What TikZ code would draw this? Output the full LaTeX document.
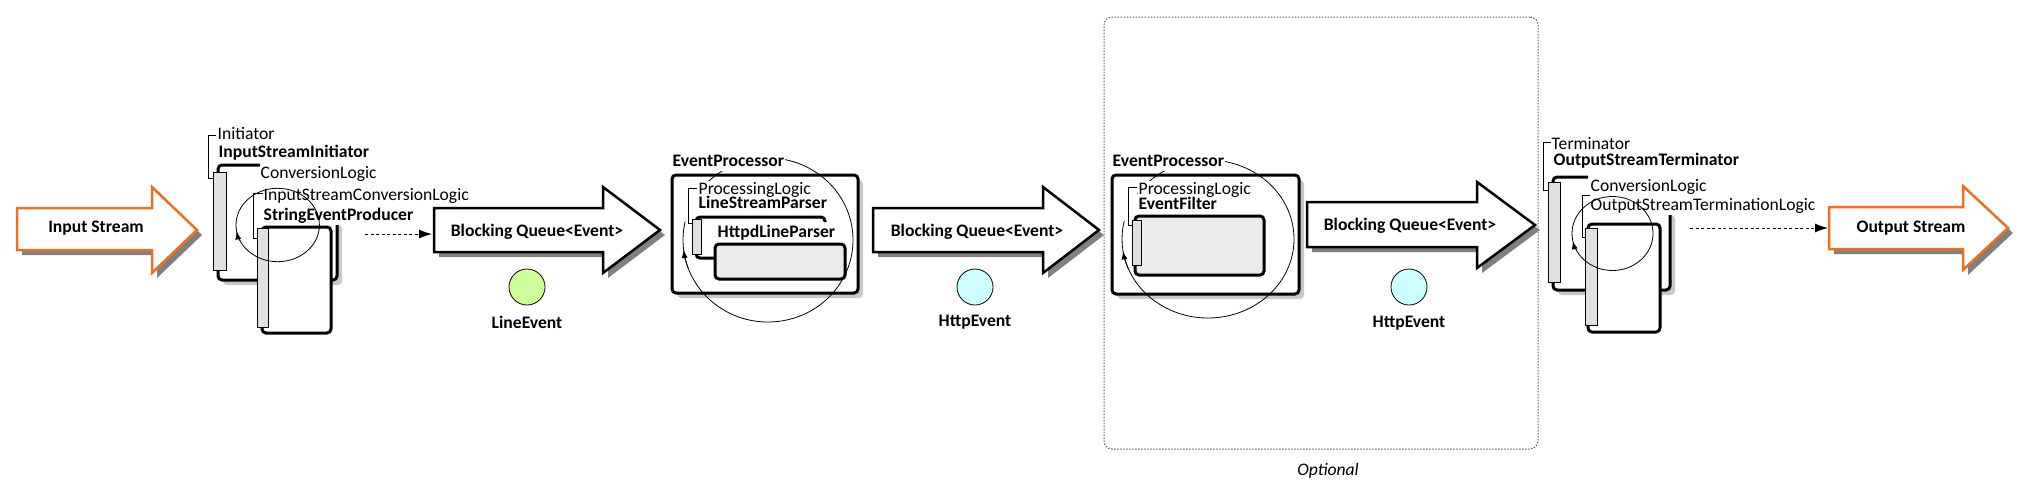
\documentclass[tikz,border=0pt]{standalone}
\usepackage{fontspec}
\setmainfont{Carlito}
\usetikzlibrary{arrows.meta,calc}
\pgfdeclarelayer{masks}
\pgfdeclarelayer{front}
\pgfsetlayers{main,masks,front}
\definecolor{orng}{RGB}{240,110,30}
\definecolor{ashad}{RGB}{128,128,128}
\definecolor{cshad}{RGB}{200,200,200}
\definecolor{portfill}{RGB}{224,224,224}
\definecolor{innerfill}{RGB}{235,235,235}
\definecolor{lgreen}{RGB}{204,255,153}
\definecolor{lcyan}{RGB}{204,255,255}
\definecolor{optgray}{RGB}{90,90,90}
\newcommand\arrowpath[8]{(#1,#4) -- (#2,#4) -- (#2,#6) -- (#3,#8) -- (#2,#7) -- (#2,#5) -- (#1,#5) -- cycle}
\newcommand\lab[4]{%
  \begin{pgfonlayer}{masks}\node[lblbox,#3,fill=white,text=white] at (#2) {#4};\end{pgfonlayer}%
  \begin{pgfonlayer}{front}\node[lblbox,#3] (#1) at (#2) {#4};\end{pgfonlayer}}
\tikzset{
  every node/.style={font=\fontsize{17.6}{20}\selectfont},
  reg/.style={},
  bold/.style={font=\fontsize{17.6}{20}\selectfont\bfseries},
  ital/.style={font=\fontsize{17.6}{20}\selectfont\itshape},
  lblbox/.style={anchor=west, inner xsep=0.5pt, inner ysep=0.5pt, text height=12.5pt, text depth=4pt},
  qarrow/.style={draw=black, line width=2.5pt, fill=white, line join=miter},
  oarrow/.style={draw=orng, line width=2.5pt, fill=white, line join=miter},
  ashadow/.style={fill=ashad},
  comp/.style={draw=black, line width=3pt, rounded corners=4pt},
  cshadow/.style={fill=cshad, rounded corners=4pt},
  port/.style={draw=black, line width=0.8pt, fill=portfill},
  brk/.style={draw=black, line width=0.8pt},
  loopline/.style={draw=black, line width=0.8pt},
  looptip/.style={draw=black, line width=0.8pt, -{Latex[length=8pt,width=6pt]}},
  dasharrow/.style={line width=1pt, dash pattern=on 3pt off 2.5pt, -{Latex[length=13pt,width=9pt]}},
  evcircle/.style={circle, draw=black, line width=0.8pt, minimum size=36pt, inner sep=0pt},
  optbox/.style={draw=optgray, line width=1pt, dash pattern=on 1.5pt off 1.5pt, rounded corners=8pt, minimum width=434pt, minimum height=432pt, inner sep=0pt}
}
\begin{document}
\begin{tikzpicture}[x=1pt,y=-1pt]
\useasboundingbox (0,0) rectangle (2043,488);

% Optional frame
\node[optbox] (optional) at (1321,233) {};
\node[ital] (optlbl) at (1328,471) {Optional};

% Input stream
\fill[ashadow, shift={(5,5)}] \arrowpath{17}{152}{197}{208}{250}{187}{273}{230};
\draw[oarrow] \arrowpath{17}{152}{197}{208}{250}{187}{273}{230};
\node[bold] (instream) at (96,228) {Input Stream};

% Initiator
\fill[cshadow] (223,225) rectangle (342,285);
\fill[white, rounded corners=4pt] (218,165) rectangle (337,280);
\draw[comp] (260,165) -- (218,165) -- (218,280) -- (337,280) -- (337,225);
\draw[port] (213,172) rectangle (226,270);
\draw[brk] (213,178) -- (208,178) -- (208,135) -- (216,135);
\lab{lInit}{217,135}{reg}{Initiator}
\lab{lISI}{218,153}{bold}{InputStreamInitiator}
\lab{lCL1}{260,174}{reg}{ConversionLogic}
\lab{lISCL}{263,196.5}{reg}{InputStreamConversionLogic}
\lab{lSEP}{263,216}{bold}{StringEventProducer}
\draw[comp, fill=white] (262,227) rectangle (331,333);
\draw[port] (257,228) rectangle (268,327);
\draw[brk] (257,238) -- (253,238) -- (253,193) -- (264,193);
\begin{pgfonlayer}{front}
\coordinate (c1) at (277.7,225);
\draw[loopline] (c1) ellipse [x radius=41.7pt, y radius=36.7pt];
\draw[looptip] ($(c1)+(205:41.7pt and 36.7pt)$) arc[start angle=205, end angle=190, x radius=41.7pt, y radius=36.7pt];
\end{pgfonlayer}

% dashed 1
\coordinate (d1a) at (365,234);
\coordinate (d1b) at (432,234);
\draw[dasharrow] (d1a) -- (d1b);

% Queue 1
\fill[ashadow, shift={(5,5)}] \arrowpath{434}{603}{660}{208}{252}{187}{273}{230};
\draw[qarrow] \arrowpath{434}{603}{660}{208}{252}{187}{273}{230};
\node[bold] (q1) at (537,232) {Blocking Queue<Event>};
\node[evcircle, fill=lgreen] (ev1) at (527,287) {};
\node[bold] (ev1l) at (527,322) {LineEvent};

% EventProcessor 1
\fill[cshadow] (677,180) rectangle (863,298);
\draw[comp, fill=white] (672,175) rectangle (858,293);
\coordinate (c2) at (768,240);
\draw[loopline] ($(c2)+(145:85pt and 82pt)$) arc[start angle=145, end angle=-193, x radius=85pt, y radius=82pt];
\draw[looptip] ($(c2)+(200:85pt and 82pt)$) arc[start angle=200, end angle=187, x radius=85pt, y radius=82pt];
\lab{lEP1}{672,162}{bold}{EventProcessor}
\lab{lPL1}{698,190}{reg}{ProcessingLogic}
\lab{lLSP}{698,204}{bold}{LineStreamParser}
\lab{lHLP}{717,233}{bold}{HttpdLineParser}
\draw[comp] (717,258) -- (696,258) -- (696,217) -- (825,217) -- (825,222);
\draw[comp, fill=innerfill] (715,244) rectangle (845,279);
\draw[port] (692,219) rectangle (701,254);
\draw[brk] (692,223) -- (688,223) -- (688,188) -- (697,188);

% Queue 2
\fill[ashadow, shift={(5,5)}] \arrowpath{873}{1043}{1099}{208}{252}{187}{273}{230};
\draw[qarrow] \arrowpath{873}{1043}{1099}{208}{252}{187}{273}{230};
\node[bold] (q2) at (977,232) {Blocking Queue<Event>};
\node[evcircle, fill=lcyan] (ev2) at (975,287) {};
\node[bold] (ev2l) at (975,322) {HttpEvent};

% EventProcessor 2
\fill[cshadow] (1117,180) rectangle (1304,299);
\draw[comp, fill=white] (1112,175) rectangle (1299,294);
\coordinate (c3) at (1208,239);
\draw[loopline] ($(c3)+(145:86pt and 79pt)$) arc[start angle=145, end angle=-193, x radius=86pt, y radius=79pt];
\draw[looptip] ($(c3)+(202:86pt and 79pt)$) arc[start angle=202, end angle=189, x radius=86pt, y radius=79pt];
\lab{lEP2}{1112,162}{bold}{EventProcessor}
\lab{lPL2}{1138,190}{reg}{ProcessingLogic}
\lab{lEF}{1138,205}{bold}{EventFilter}
\draw[comp, fill=innerfill] (1135,216) rectangle (1264,275);
\draw[port] (1132,220) rectangle (1141,265);
\draw[brk] (1132,225) -- (1128,225) -- (1128,187) -- (1137,187);

% Queue 3
\fill[ashadow, shift={(5,5)}] \arrowpath{1307}{1477}{1535}{202}{247}{182}{268}{225};
\draw[qarrow] \arrowpath{1307}{1477}{1535}{202}{247}{182}{268}{225};
\node[bold] (q3) at (1410,226) {Blocking Queue<Event>};
\node[evcircle, fill=lcyan] (ev3) at (1409,287) {};
\node[bold] (ev3l) at (1409,323) {HttpEvent};

% Terminator
\fill[cshadow] (1558,215) rectangle (1675,295);
\fill[white, rounded corners=4pt] (1553,177) rectangle (1670,290);
\draw[comp] (1588,177) -- (1553,177) -- (1553,290) -- (1670,290) -- (1670,215);
\draw[port] (1548,182) rectangle (1560,282);
\draw[brk] (1548,190) -- (1543,190) -- (1543,142) -- (1551,142);
\lab{lTerm}{1551,145}{reg}{Terminator}
\lab{lOST}{1553,161}{bold}{OutputStreamTerminator}
\lab{lCL2}{1590,187}{reg}{ConversionLogic}
\lab{lOSTL}{1590,206}{reg}{OutputStreamTerminationLogic}
\draw[comp, fill=white] (1588,224) rectangle (1660,332);
\draw[port] (1585,228) rectangle (1597,325);
\draw[brk] (1585,237) -- (1582,237) -- (1582,195) -- (1590,195);
\begin{pgfonlayer}{front}
\coordinate (c4) at (1612.5,233.5);
\draw[loopline] (c4) ellipse [x radius=40.5pt, y radius=37pt];
\draw[looptip] ($(c4)+(207:40.5pt and 37pt)$) arc[start angle=207, end angle=192, x radius=40.5pt, y radius=37pt];
\end{pgfonlayer}

% dashed 2
\coordinate (d2a) at (1690,228);
\coordinate (d2b) at (1828,228);
\draw[dasharrow] (d2a) -- (d2b);

% Output stream
\fill[ashadow, shift={(5,5)}] \arrowpath{1829}{1963}{2008}{207}{249}{186}{270}{228};
\draw[oarrow] \arrowpath{1829}{1963}{2008}{207}{249}{186}{270}{228};
\node[bold] (outstream) at (1911,228) {Output Stream};
\end{tikzpicture}
\end{document}
